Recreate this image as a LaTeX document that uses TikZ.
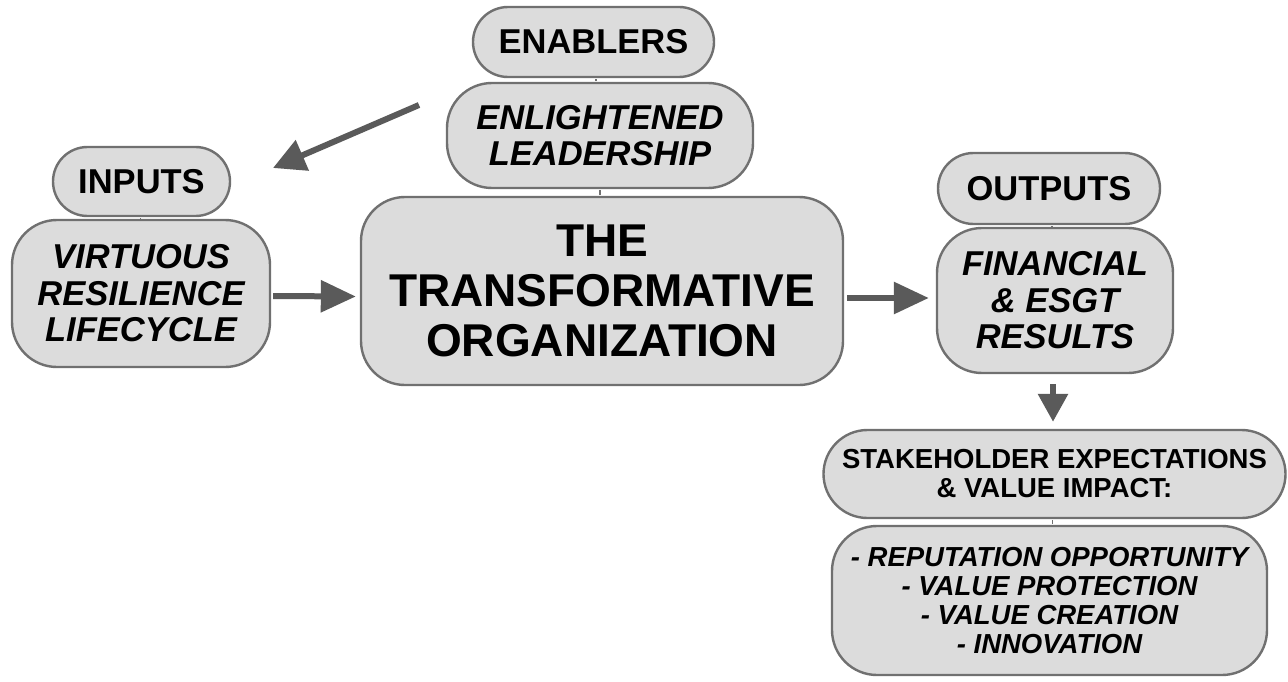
\documentclass[tikz,border=0pt]{standalone}
\usepackage{fontspec}
\setmainfont{Liberation Sans}
\usetikzlibrary{arrows.meta,calc}
\definecolor{boxfill}{RGB}{220,220,220}
\definecolor{boxline}{RGB}{112,112,112}
\definecolor{arrowc}{RGB}{90,90,90}
\begin{document}
\begin{tikzpicture}[x=1pt,y=-1pt,
  box/.style={draw=boxline, line width=2.4pt, fill=boxfill, align=center, inner sep=0pt, text=black},
  bigf/.style={font=\bfseries\fontsize{34.5}{36.5}\selectfont},
  bigi/.style={font=\bfseries\itshape\fontsize{34.5}{36.5}\selectfont},
  mainf/.style={font=\bfseries\fontsize{46}{50}\selectfont},
  smallf/.style={font=\bfseries\fontsize{27.5}{29}\selectfont},
  smalli/.style={font=\bfseries\itshape\fontsize{27.5}{29}\selectfont},
  tick/.style={draw=boxline, line width=1.5pt},
  arr/.style={draw=arrowc, line width=6pt, -{Triangle[length=35pt,width=31pt]}},
  arrd/.style={draw=arrowc, line width=6pt, -{Triangle[length=28pt,width=29pt]}},
  arrg/.style={draw=arrowc, line width=6pt, -{Triangle[length=32pt,width=32pt]}}
]
\useasboundingbox (0,0) rectangle (1288,682);
\fill[white] (0,0) rectangle (1288,682);

\node[box, bigf, minimum width=241pt, minimum height=70pt, rounded corners=35pt] (enab) at (593.5,42) {ENABLERS};
\node[box, bigi, minimum width=306pt, minimum height=105pt, rounded corners=45pt] (enl) at (600,135.5) {ENLIGHTENED\\LEADERSHIP};
\node[box, mainf, minimum width=482pt, minimum height=188pt, rounded corners=44pt] (main) at (602,291) {THE\\TRANSFORMATIVE\\ORGANIZATION};
\node[box, bigf, minimum width=177pt, minimum height=69pt, rounded corners=34.5pt] (inputs) at (141.5,181.5) {INPUTS};
\node[box, bigi, minimum width=258pt, minimum height=147pt, rounded corners=45pt] (virt) at (141,293.5) {VIRTUOUS\\RESILIENCE\\LIFECYCLE};
\node[box, bigf, minimum width=222pt, minimum height=71pt, rounded corners=35.5pt] (outputs) at (1049,188.5) {OUTPUTS};
\node[box, bigi, minimum width=236pt, minimum height=145pt, rounded corners=45pt] (fin) at (1055,300.5) {FINANCIAL\\\&~ESGT\\RESULTS};
\node[box, smallf, minimum width=462pt, minimum height=88pt, rounded corners=44pt] (stake) at (1054.5,474) {STAKEHOLDER EXPECTATIONS\\\&~VALUE IMPACT:};
\node[box, smalli, minimum width=435pt, minimum height=149pt, rounded corners=45pt] (impact) at (1049.5,600.5) {- REPUTATION OPPORTUNITY\\- VALUE PROTECTION\\- VALUE CREATION\\- INNOVATION};

% small connecting ticks
\draw[tick] ($(enab.south)+(2.5,1)$) -- ($(enl.north)+(-4,-1)$);
\draw[tick] ($(enl.south)+(0,1)$) -- ($(main.north)+(-2,-1)$);
\draw[tick] ($(inputs.south)+(-1,1)$) -- ($(virt.north)+(-0.5,-1)$);
\draw[tick] ($(outputs.south)+(3,1)$) -- ($(fin.north)+(-3,-1)$);
\draw[tick] ($(stake.south)+(-2,1)$) -- ($(impact.north)+(3,-1)$);

% arrows
\coordinate (dstart) at (419,105);
\coordinate (dend) at (273,168);
\draw[arrg] (dstart) -- (dend);
\draw[arr] ($(virt.east)+(2,2.5)$) -- ($(main.west)+(-4,5.5)$);
\draw[arr] ($(main.east)+(3,7)$) -- ($(fin.west)+(-7,-2.5)$);
\draw[arrd] ($(fin.south)+(-2,10)$) -- ($(stake.north)+(-1.5,-7)$);
\end{tikzpicture}
\end{document}
